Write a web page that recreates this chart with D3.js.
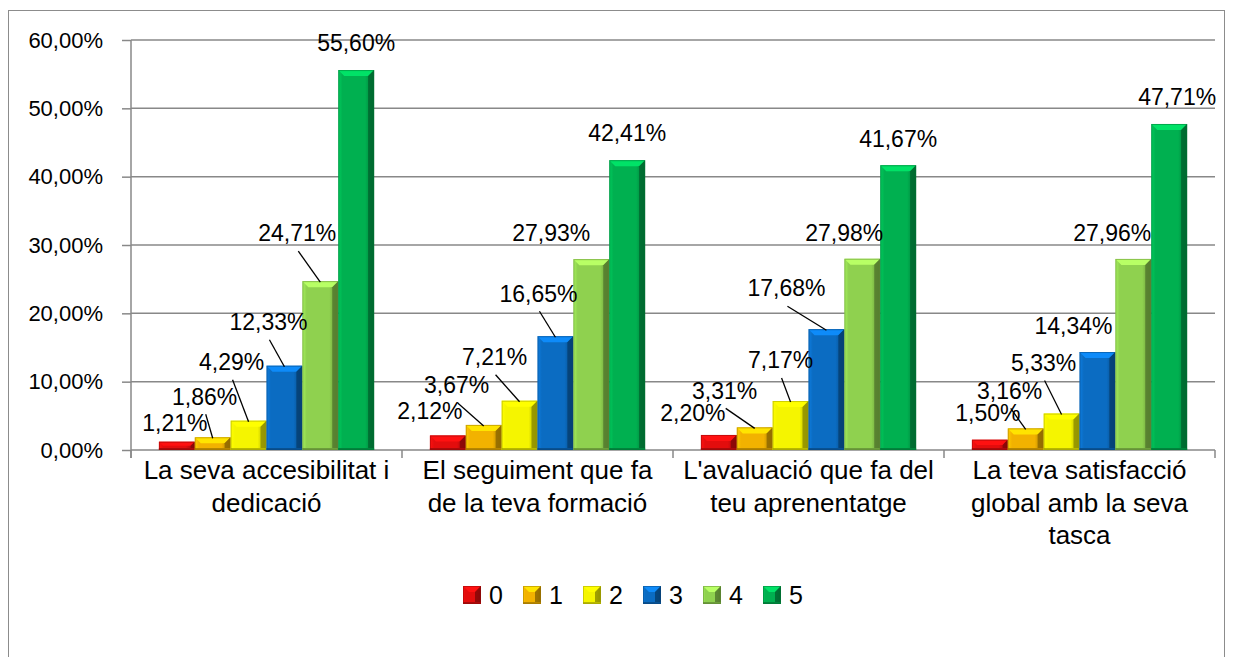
<!DOCTYPE html>
<html>
<head>
<meta charset="utf-8">
<script src="https://cdn.jsdelivr.net/npm/d3@7"></script>
<style>
  html, body { margin: 0; padding: 0; background: #fff; }
  svg { display: block; font-family: "Liberation Sans", Arial, sans-serif; }
</style>
</head>
<body>
<div id="chart"></div>
<script>
// categories + series values (percent)
const categories = [
    "La seva accesibilitat i dedicació",
    "El seguiment que fa de la teva formació",
    "L'avaluació que fa del teu aprenentatge",
    "La teva satisfacció global amb la seva tasca"
];
const seriesNames = ["0", "1", "2", "3", "4", "5"];
const s0 = [1.21, 2.12, 2.20, 1.50];
const s1 = [1.86, 3.67, 3.31, 3.16];
const s2 = [4.29, 7.21, 7.17, 5.33];
const s3 = [12.33, 16.65, 17.68, 14.34];
const s4 = [24.71, 27.93, 27.98, 27.96];
const s5 = [55.60, 42.41, 41.67, 47.71];
const seriesValues = [s0, s1, s2, s3, s4, s5];
const yTicks = [0, 10, 20, 30, 40, 50, 60];

const colors = ["#e30d0d", "#f2b200", "#f5f500", "#0b6cc2", "#8fd14f", "#00b050"];

// where each data label sits relative to the top of its bar: [dx, dy, leader line]
const labelNudge = [
    [[-2, -19, 0], [-18, -25, 0], [-26, -22, 0], [-2, -27, 0]],
    [[-8, -41, 1], [-27, -40, 1], [-30, -37, 1], [-16, -38, 1]],
    [[-17, -59, 1], [-25, -44, 1], [-10, -41, 1], [-18, -51, 1]],
    [[-16, -44, 1], [-17, -43, 1], [-40, -41, 1], [-24, -26, 0]],
    [[-23, -48, 1], [-40, -26, 0], [-18, -26, 0], [-21, -26, 0]],
    [[0, -27, 0], [0, -27, 0], [0, -27, 0], [8, -27, 0]]
];

const width = 1233, height = 657;
const gridColor = "#888888";

const svg = d3.select("#chart").append("svg")
    .attr("width", width)
    .attr("height", height);

// chart area border
svg.append("rect")
    .attr("x", 8.5).attr("y", 10.5)
    .attr("width", 1216).attr("height", 700)
    .attr("fill", "none")
    .attr("stroke", "#8c8c8c")
    .attr("stroke-width", 1);

const x0 = d3.scaleBand()
    .domain(categories)
    .range([131, 1215]);

const x1 = d3.scaleBand()
    .domain(seriesNames)
    .range([0, x0.bandwidth()])
    .paddingOuter(0.778);

const y = d3.scaleLinear()
    .domain([0, 60])
    .range([450, 40]);

const locale = d3.formatLocale({ decimal: ",", thousands: ".", grouping: [3], currency: ["", "€"] });
const fmt = locale.format(".2f");

// gridlines
svg.append("g")
    .selectAll("line")
    .data(yTicks.filter(d => d > 0))
    .join("line")
    .attr("x1", 131).attr("x2", 1215)
    .attr("y1", d => y(d)).attr("y2", d => y(d))
    .attr("stroke", gridColor)
    .attr("stroke-width", 1.5);

// y axis
const yAxis = svg.append("g")
    .attr("transform", "translate(131,0)")
    .call(d3.axisLeft(y).tickValues(yTicks).tickSize(9).tickPadding(19)
        .tickFormat(d => fmt(d) + "%"));
yAxis.select(".domain").attr("stroke", gridColor).attr("stroke-width", 1.5)
    .attr("d", `M0,${y(60)}V${y(0) + 8}`);
yAxis.selectAll(".tick line").attr("stroke", gridColor).attr("stroke-width", 1.5);
yAxis.selectAll(".tick text")
    .attr("fill", "#000")
    .style("font-size", "22px")
    .style("font-family", "'Liberation Sans', Arial, sans-serif");

// x axis
const xg = svg.append("g");
xg.append("line")
    .attr("x1", 131).attr("x2", 1215)
    .attr("y1", y(0)).attr("y2", y(0))
    .attr("stroke", gridColor).attr("stroke-width", 1.5);
const bounds = categories.map(c => x0(c)).concat([x0(categories[categories.length - 1]) + x0.bandwidth()]);
xg.selectAll("line.tick")
    .data(bounds)
    .join("line")
    .attr("class", "tick")
    .attr("x1", d => d).attr("x2", d => d)
    .attr("y1", y(0)).attr("y2", y(0) + 8)
    .attr("stroke", gridColor).attr("stroke-width", 1.5);

// category labels, wrapped
function wrapLines(text, maxW, size) {
    const probe = svg.append("text").style("font-size", size + "px");
    const words = text.split(" ");
    const lines = [];
    let cur = "";
    words.forEach(w => {
        const trial = cur ? cur + " " + w : w;
        probe.text(trial);
        if (probe.node().getComputedTextLength() > maxW && cur) {
            lines.push(cur);
            cur = w;
        } else {
            cur = trial;
        }
    });
    if (cur) lines.push(cur);
    probe.remove();
    return lines;
}

categories.forEach(c => {
    const lines = wrapLines(c, 258, 26);
    const t = svg.append("text")
        .attr("text-anchor", "middle")
        .style("font-size", "26px")
        .attr("fill", "#000");
    lines.forEach((ln, i) => {
        t.append("tspan")
            .attr("x", x0(c) + x0.bandwidth() / 2)
            .attr("y", 470 + i * 32.5)
            .attr("dy", "0.36em")
            .text(ln);
    });
});

// gradients for bevelled bars
const defs = svg.append("defs");
colors.forEach((col, i) => {
    const c = d3.color(col);
    const gr = defs.append("linearGradient")
        .attr("id", "face" + i)
        .attr("x1", 0).attr("x2", 1).attr("y1", 0).attr("y2", 0);
    gr.append("stop").attr("offset", "0%").attr("stop-color", c.brighter(0.4));
    gr.append("stop").attr("offset", "12%").attr("stop-color", c);
    gr.append("stop").attr("offset", "75%").attr("stop-color", c);
    gr.append("stop").attr("offset", "100%").attr("stop-color", c.darker(1.1));
});

function drawBevel(g, x, yTop, w, h, i) {
    const c = d3.color(colors[i]);
    const b = Math.min(6, h / 2);
    g.append("rect")
        .attr("x", x).attr("y", yTop)
        .attr("width", w).attr("height", h)
        .attr("fill", `url(#face${i})`);
    // top bevel
    g.append("polygon")
        .attr("points", [[x, yTop], [x + w, yTop], [x + w - b, yTop + b], [x + b, yTop + b]].join(" "))
        .attr("fill", c.brighter(0.7));
    // right shade
    g.append("polygon")
        .attr("points", [[x + w, yTop], [x + w - b, yTop + b], [x + w - b, yTop + h], [x + w, yTop + h]].join(" "))
        .attr("fill", c.darker(1.5))
        .attr("opacity", 0.85);
    // bottom shade
    g.append("rect")
        .attr("x", x).attr("y", yTop + h - Math.min(2, h / 3))
        .attr("width", w).attr("height", Math.min(2, h / 3))
        .attr("fill", c.darker(0.8));
    g.append("rect")
        .attr("x", x + 0.5).attr("y", yTop + 0.5)
        .attr("width", w - 1).attr("height", Math.max(0, h - 1))
        .attr("fill", "none")
        .attr("stroke", c.darker(1.2))
        .attr("stroke-opacity", 0.5)
        .attr("stroke-width", 1);
}

const barsG = svg.append("g");
const labelsG = svg.append("g");

seriesValues.forEach((vals, si) => {
    vals.forEach((v, ci) => {
        const cat = categories[ci];
        const bx = x0(cat) + x1(seriesNames[si]);
        const bw = x1.bandwidth();
        const top = y(v);
        drawBevel(barsG, bx, top, bw, y(0) - top, si);

        const [dx, dy, leader] = labelNudge[si][ci];
        const cx = bx + bw / 2;
        const lx = cx + dx, ly = top + dy;
        if (leader) {
            labelsG.append("line")
                .attr("x1", lx + 1).attr("y1", ly + 18)
                .attr("x2", cx).attr("y2", top + 1)
                .attr("stroke", "#000")
                .attr("stroke-width", 1.3);
        }
        labelsG.append("text")
            .attr("x", lx).attr("y", ly)
            .attr("dy", "0.36em")
            .attr("text-anchor", "middle")
            .style("font-size", "23px")
            .attr("fill", "#000")
            .text(fmt(v) + "%");
    });
});

// legend
const legend = svg.append("g").attr("transform", "translate(463,586)");
seriesNames.forEach((s, i) => {
    const g = legend.append("g").attr("transform", `translate(${i * 60},0)`);
    drawBevel(g, 0, 0, 18, 18, i);
    g.append("text")
        .attr("x", 26).attr("y", 9)
        .attr("dy", "0.36em")
        .style("font-size", "25px")
        .attr("fill", "#000")
        .text(s);
});
</script>
</body>
</html>
